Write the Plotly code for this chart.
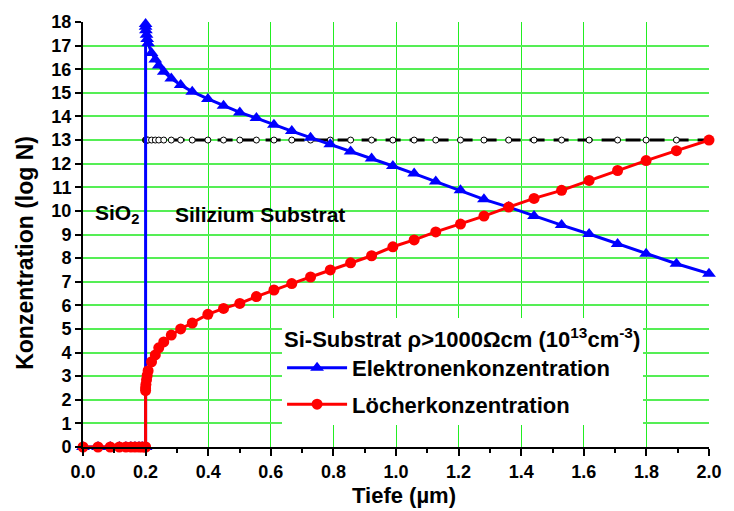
import plotly.graph_objects as go

# Depth grid (µm)
x_pre = [0.0, 0.048, 0.087, 0.116, 0.137, 0.153, 0.166, 0.179, 0.189, 0.198, 0.2]
x_sub = [0.2, 0.2, 0.201, 0.203, 0.205, 0.208, 0.219, 0.231, 0.242, 0.258, 0.282,
         0.312, 0.349, 0.399, 0.449, 0.501, 0.554, 0.61, 0.667, 0.727, 0.79, 0.855,
         0.922, 0.99, 1.058, 1.127, 1.206, 1.281, 1.36, 1.441, 1.529, 1.617, 1.708,
         1.799, 1.896, 2.0]

y_pre = [0, 0, 0, 0, 0, 0, 0, 0, 0, 0, 0]
elektronen = [17.92, 17.8, 17.65, 17.46, 17.28, 17.1, 16.69, 16.41, 16.16, 15.89, 15.61,
              15.33, 15.05, 14.74, 14.45, 14.17, 13.93, 13.65, 13.38, 13.1, 12.82, 12.52,
              12.22, 11.9, 11.58, 11.25, 10.87, 10.49, 10.16, 9.78, 9.40, 9.02, 8.60,
              8.18, 7.76, 7.34]
loecher = [2.39, 2.5, 2.65, 2.85, 3.03, 3.23, 3.61, 3.90, 4.20, 4.45, 4.74,
           5.0, 5.25, 5.62, 5.87, 6.08, 6.37, 6.65, 6.92, 7.2, 7.5, 7.8,
           8.1, 8.48, 8.77, 9.11, 9.44, 9.78, 10.16, 10.53, 10.87, 11.29, 11.71,
           12.13, 12.55, 13.0]
dotierung = [13.0] * len(x_sub)

x_ticks = [0.0, 0.2, 0.4, 0.6, 0.8, 1.0, 1.2, 1.4, 1.6, 1.8, 2.0]
y_ticks = list(range(0, 19))

FONT = "Liberation Sans, Arial, sans-serif"

fig = go.Figure()

fig.add_trace(go.Scatter(
    x=x_sub, y=dotierung, mode="lines+markers", showlegend=False,
    line=dict(color="black", width=3, dash="15px,9px"),
    marker=dict(symbol="circle", size=6, color="white",
                line=dict(color="black", width=1)),
    cliponaxis=False))

fig.add_trace(go.Scatter(
    x=x_pre + x_sub, y=y_pre + elektronen, mode="lines+markers",
    name="<b>Elektronenkonzentration</b>", legendgroup="a",
    line=dict(color="#0000ff", width=3),
    marker=dict(symbol="triangle-up", size=12, color="#0000ff"),
    cliponaxis=False))

fig.add_trace(go.Scatter(
    x=x_pre + x_sub, y=y_pre + loecher, mode="lines+markers",
    name="<b>Löcherkonzentration</b>", legendgroup="b",
    line=dict(color="#ff0000", width=3),
    marker=dict(symbol="circle", size=11, color="#ff0000"),
    cliponaxis=False))

fig.add_annotation(x=0.11, y=9.86, text="<b>SiO<sub>2</sub></b>", showarrow=False,
                   font=dict(family=FONT, size=21, color="black"))
fig.add_annotation(x=0.564, y=9.86, text="<b>Silizium Substrat</b>", showarrow=False,
                   font=dict(family=FONT, size=21, color="black"))

# Axis titles
fig.add_annotation(xref="paper", yref="paper", x=0.5126, y=-0.114,
                   xanchor="center", yanchor="middle", showarrow=False,
                   text="<b>Tiefe (µm)</b>", font=dict(family=FONT, size=22, color="black"))
fig.add_annotation(xref="paper", yref="paper", x=-0.0926, y=0.457,
                   xanchor="center", yanchor="middle", showarrow=False, textangle=-90,
                   text="<b>Konzentration (log N)</b>", font=dict(family=FONT, size=23, color="black"))

fig.update_layout(
    width=734, height=511,
    margin=dict(l=83, r=14, t=18, b=64),
    paper_bgcolor="white", plot_bgcolor="white",
    font=dict(family=FONT, color="black"),
    legend=dict(
        x=0.318, y=0.303, xanchor="left", yanchor="top",
        bgcolor="white", borderwidth=0,
        font=dict(family=FONT, size=22, color="black"),
        title=dict(text="<b>Si-Substrat ρ>1000Ωcm (10<sup>13</sup>cm<sup>-3</sup>)</b>",
                   font=dict(family=FONT, size=22, color="black")),
        tracegroupgap=5, traceorder="grouped",
        itemwidth=60,
    ),
    xaxis=dict(
        range=[0, 2.0], tickvals=x_ticks, ticktext=[f"<b>{v:.1f}</b>" for v in x_ticks],
        showgrid=True, gridcolor="#22ee22", gridwidth=1,
        showline=True, linecolor="black", linewidth=2,
        ticks="outside", ticklen=7, tickwidth=2, tickcolor="black",
        minor=dict(dtick=0.1, tick0=0, ticks="outside", ticklen=4, tickwidth=2,
                   tickcolor="black", showgrid=False),
        tickfont=dict(family=FONT, size=18, color="black"),
        zeroline=False,
    ),
    yaxis=dict(
        range=[0, 18], tickvals=y_ticks, ticktext=[f"<b>{v}</b>" for v in y_ticks],
        showgrid=True, gridcolor="#55ee55", gridwidth=1.5,
        showline=True, linecolor="black", linewidth=2,
        ticks="outside", ticklen=6, tickwidth=2, tickcolor="black",
        tickfont=dict(family=FONT, size=18, color="black"),
        zeroline=False,
    ),
)

fig.write_html("out.html")
